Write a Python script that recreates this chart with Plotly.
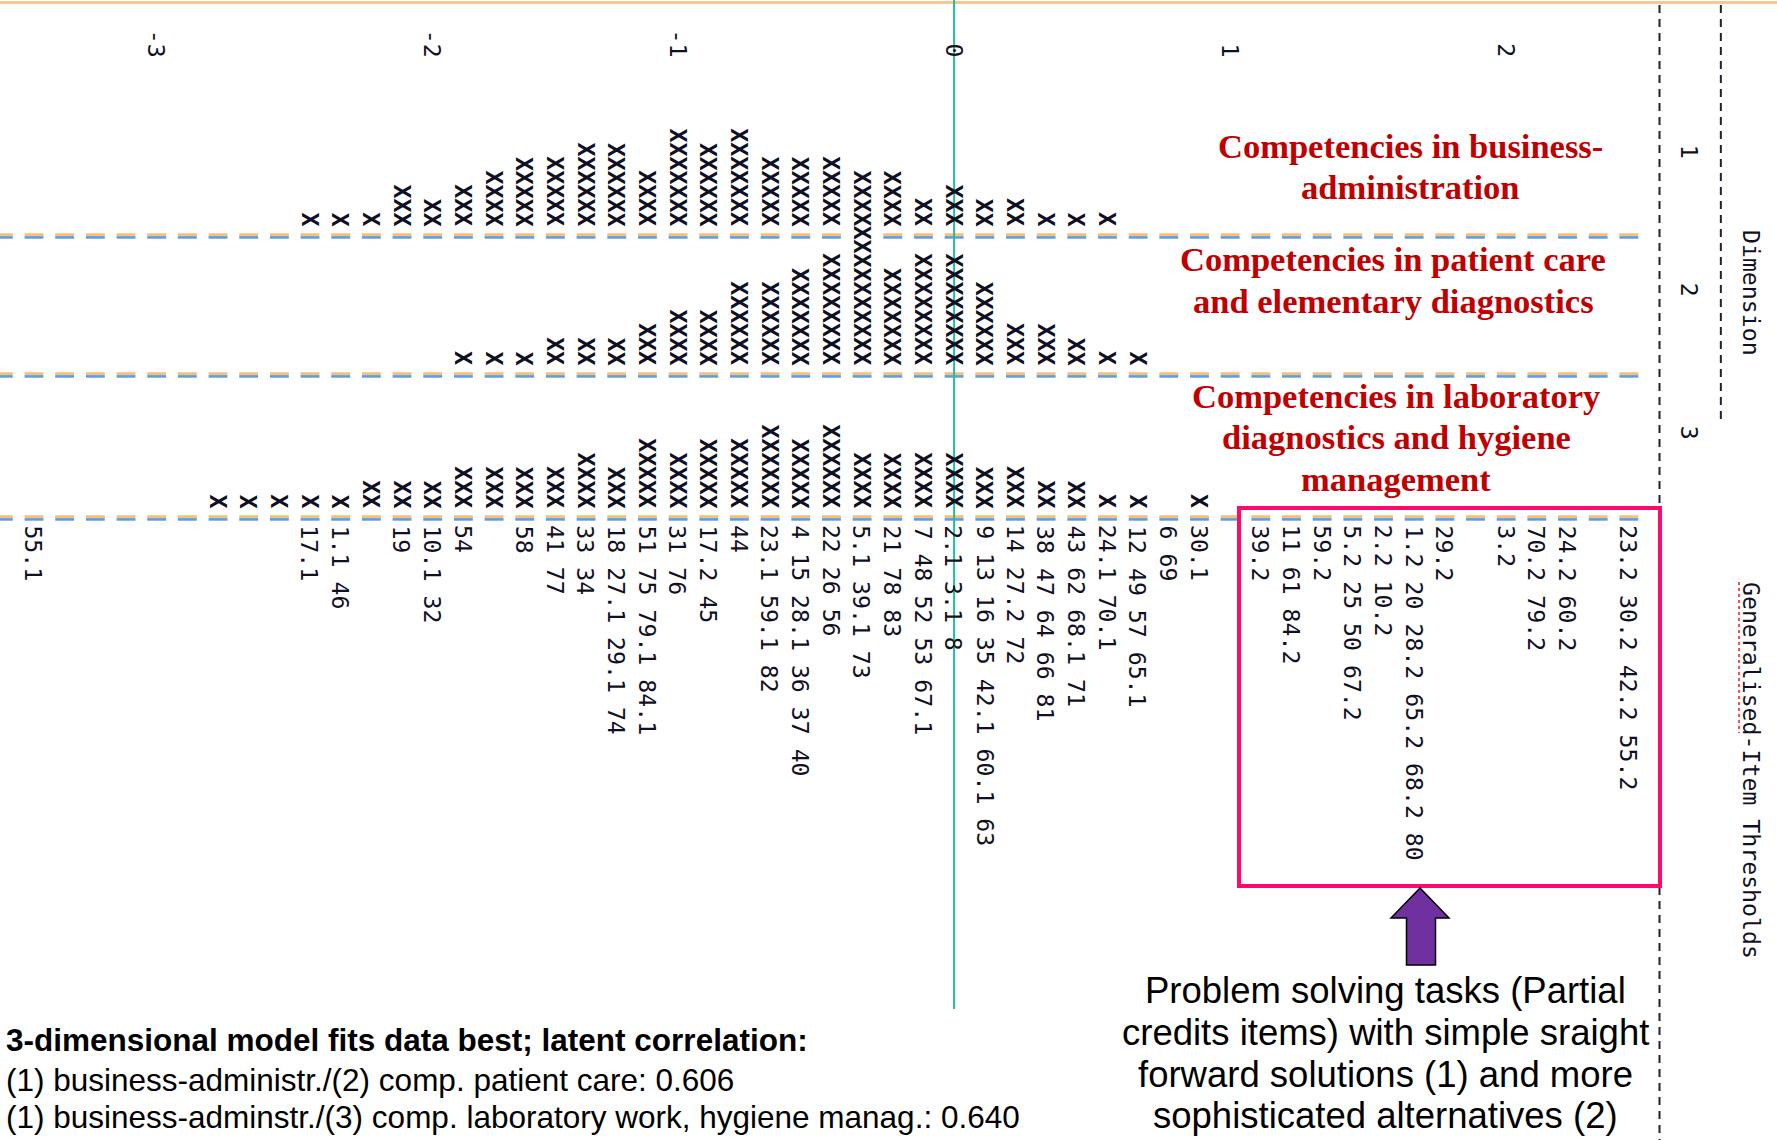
import plotly.graph_objects as go

# ---------------- data ----------------
tick_labels = ["-3", "-2", "-1", "0", "1", "2"]
tick_cols = [4, 13, 21, 30, 39, 48]

dim1_start = 9
dim1_counts = [1, 1, 1, 3, 2, 3, 4, 5, 5, 6, 6, 4, 7, 6, 7, 5, 5, 5, 4, 4, 2, 3, 2, 2, 1, 1, 1]
dim2_start = 14
dim2_counts = [1, 1, 1, 2, 2, 2, 3, 4, 4, 6, 6, 7, 8, 10, 7, 8, 8, 6, 3, 3, 2, 1, 1]
dim3_start = 6
dim3_counts = [1, 1, 1, 1, 1, 2, 2, 2, 3, 3, 3, 3, 4, 3, 5, 4, 5, 5, 6, 5, 6, 4, 4, 4, 4,
               3, 3, 2, 2, 1, 1, 0, 1]

item_cols = [0, 9, 10, 12, 13, 14, 16, 17, 18, 19, 20, 21, 22, 23, 24, 25, 26, 27, 28, 29,
             30, 31, 32, 33, 34, 35, 36, 37, 38, 40, 41, 42, 43, 44, 45, 46, 48, 49, 50, 52]
item_labels = ["55.1", "17.1", "1.1 46", "19", "10.1 32", "54", "58", "41 77", "33 34",
               "18 27.1 29.1 74", "51 75 79.1 84.1", "31 76", "17.2 45", "44", "23.1 59.1 82",
               "4 15 28.1 36 37 40", "22 26 56", "5.1 39.1 73", "21 78 83", "7 48 52 53 67.1",
               "2.1 3.1 8", "9 13 16 35 42.1 60.1 63", "14 27.2 72", "38 47 64 66 81",
               "43 62 68.1 71", "24.1 70.1", "12 49 57 65.1", "6 69", "30.1",
               "39.2", "11 61 84.2", "59.2", "5.2 25 50 67.2", "2.2 10.2",
               "1.2 20 28.2 65.2 68.2 80", "29.2", "3.2", "70.2 79.2", "24.2 60.2",
               "23.2 30.2 42.2 55.2"]

dimension_numbers = ["1", "2", "3"]
dimension_title = "Dimension"
items_title = "Generalised-Item Thresholds"

dim1_name = ["Competencies in business-", "administration"]
dim2_name = ["Competencies in patient care", "and elementary diagnostics"]
dim3_name = ["Competencies in laboratory", "diagnostics and hygiene", "management"]

corr_lines = ["<b>3-dimensional model fits data best; latent correlation:</b>",
              "(1) business-administr./(2) comp. patient care: 0.606",
              "(1) business-adminstr./(3) comp. laboratory work, hygiene manag.: 0.640"]
note_lines = ["Problem solving tasks (Partial", "credits items) with simple sraight",
              "forward solutions (1) and more", "sophisticated alternatives (2)"]

# ---------------- layout constants ----------------
W, H = 1777, 1140
X0, DX = 34.0, 30.67          # pixel of column 0, column pitch
ADV = 13.95                   # character advance of rotated mono text
MONO = "DejaVu Sans Mono"
MONO_SIZE = 23.2
INK = "#101024"
SEP_Y = [236, 375, 518]       # separator rows between the dimension fields
X_BASE_OFF = 16.5
LABEL_START = 525.5
TICK_END = 57.5
ZERO_COL = 30


def cx(px):
    return (px - X0) / DX


annotations = []
shapes = []


def vtext(col, yc, text, size=MONO_SIZE, color=INK, bold=False):
    annotations.append(dict(x=col, y=yc, xref="x", yref="y",
                            text=("<b>" + text + "</b>") if bold else text, textangle=90,
                            showarrow=False, xanchor="center", yanchor="middle",
                            borderpad=0, font=dict(family=MONO, size=size, color=color)))


def htext(px, py, text, size, color, family, anchor="center"):
    annotations.append(dict(x=px / W, y=py, xref="paper", yref="y", text=text,
                            showarrow=False, xanchor=anchor, yanchor="middle",
                            borderpad=0, font=dict(family=family, size=size, color=color)))


fig = go.Figure()

# ---- X stacks (persons) ----
rows = [(dim1_start, dim1_counts), (dim2_start, dim2_counts), (dim3_start, dim3_counts)]
overwritten = set()
for r, (start, counts) in enumerate(rows):
    cap = round((SEP_Y[r] - SEP_Y[r - 1]) / ADV) - 1 if r > 0 else 99
    for j, n in enumerate(counts):
        if n == 0:
            continue
        col = start + j
        base = SEP_Y[r] - X_BASE_OFF
        vtext(col, base - (n - 1) * ADV / 2, "X" * n, bold=True)
        if n > cap:
            overwritten.add((r - 1, col))

# ---- separator dashes (rotated '|') ----
dx, dy = [], []
for k, ly in enumerate(SEP_Y):
    for col in range(-1, 53):
        if (k, col) in overwritten:
            continue
        dx.append(col)
        dy.append(ly)
fig.add_trace(go.Scatter(x=dx, y=[v - 1.4 for v in dy], mode="markers", hoverinfo="skip",
                         marker=dict(symbol="line-ew", size=13.5,
                                     line=dict(width=2.6, color="#f7bb74"))))
fig.add_trace(go.Scatter(x=dx, y=[v + 1.4 for v in dy], mode="markers", hoverinfo="skip",
                         marker=dict(symbol="line-ew", size=13.5,
                                     line=dict(width=2.6, color="#5b9fdc"))))

# ---- item labels ----
for col, s in zip(item_cols, item_labels):
    vtext(col, LABEL_START + len(s) * ADV / 2, s)

# ---- logit ticks ----
for col, s in zip(tick_cols, tick_labels):
    vtext(col, TICK_END - len(s) * ADV / 2, s)

# ---- right-hand text columns ----
for s, yc in zip(dimension_numbers, [152, 290, 433]):
    vtext(54, yc, s)
vtext(56, 292.5, dimension_title)
vtext(56, 770.5, items_title)

# ---- dimension names (red) ----
SERIF = "Liberation Serif, Times New Roman, serif"
for lines, xc, ys in [(dim1_name, 1410, [146, 187]),
                      (dim2_name, 1393, [259, 301]),
                      (dim3_name, 1396, [396, 437, 478.5])]:
    for s, yc in zip(lines, ys):
        htext(xc, yc, "<b>" + s + "</b>", 34.5, "#c00000", SERIF)

SANS = "Liberation Sans, Arial, sans-serif"
for s, yc in zip(corr_lines, [1040, 1080, 1117]):
    htext(5, yc, s, 31.5, "#000000", SANS, anchor="left")
for s, yc in zip(note_lines, [990, 1032, 1074, 1115]):
    htext(1385, yc, s, 36.5, "#000000", SANS)

# ---- shapes ----
shapes.append(dict(type="line", xref="paper", yref="y", x0=0, x1=1, y0=2.5, y1=2.5,
                   line=dict(color="#f9c797", width=3)))
shapes.append(dict(type="line", xref="x", yref="y", x0=ZERO_COL, x1=ZERO_COL, y0=0, y1=1009,
                   line=dict(color="#1fbf9c", width=2)))
shapes.append(dict(type="line", xref="x", yref="y", x0=53, x1=53, y0=5, y1=1140,
                   line=dict(color="#222233", width=2, dash="8px,6px")))
shapes.append(dict(type="line", xref="x", yref="y", x0=55, x1=55, y0=5, y1=423,
                   line=dict(color="#222233", width=2, dash="8px,6px")))
shapes.append(dict(type="rect", xref="x", yref="y", x0=cx(1239), x1=cx(1660), y0=508, y1=886,
                   line=dict(color="#ff0a6c", width=4), fillcolor="rgba(0,0,0,0)"))
shapes.append(dict(type="line", xref="x", yref="y", x0=cx(1739), x1=cx(1739), y0=582, y1=733,
                   line=dict(color="#ff4d4d", width=2, dash="dot")))
pts = [(1420, 888), (1449, 918), (1435.5, 918), (1435.5, 965), (1406.5, 965), (1406.5, 918),
       (1391, 918)]
path = "M " + " L ".join(f"{cx(px):.4f},{py}" for px, py in pts) + " Z"
shapes.append(dict(type="path", xref="x", yref="y", path=path, fillcolor="#7030a0",
                   line=dict(color="#000000", width=1.5)))

fig.update_layout(
    width=W, height=H, margin=dict(l=0, r=0, t=0, b=0),
    paper_bgcolor="white", plot_bgcolor="white", showlegend=False,
    xaxis=dict(range=[cx(0), cx(W)], visible=False, fixedrange=True),
    yaxis=dict(range=[H, 0], visible=False, fixedrange=True),
    annotations=annotations, shapes=shapes,
)

fig.write_html("out.html", config={"displayModeBar": False},
               post_script="document.body.style.margin='0px';document.body.style.overflow='hidden';")
